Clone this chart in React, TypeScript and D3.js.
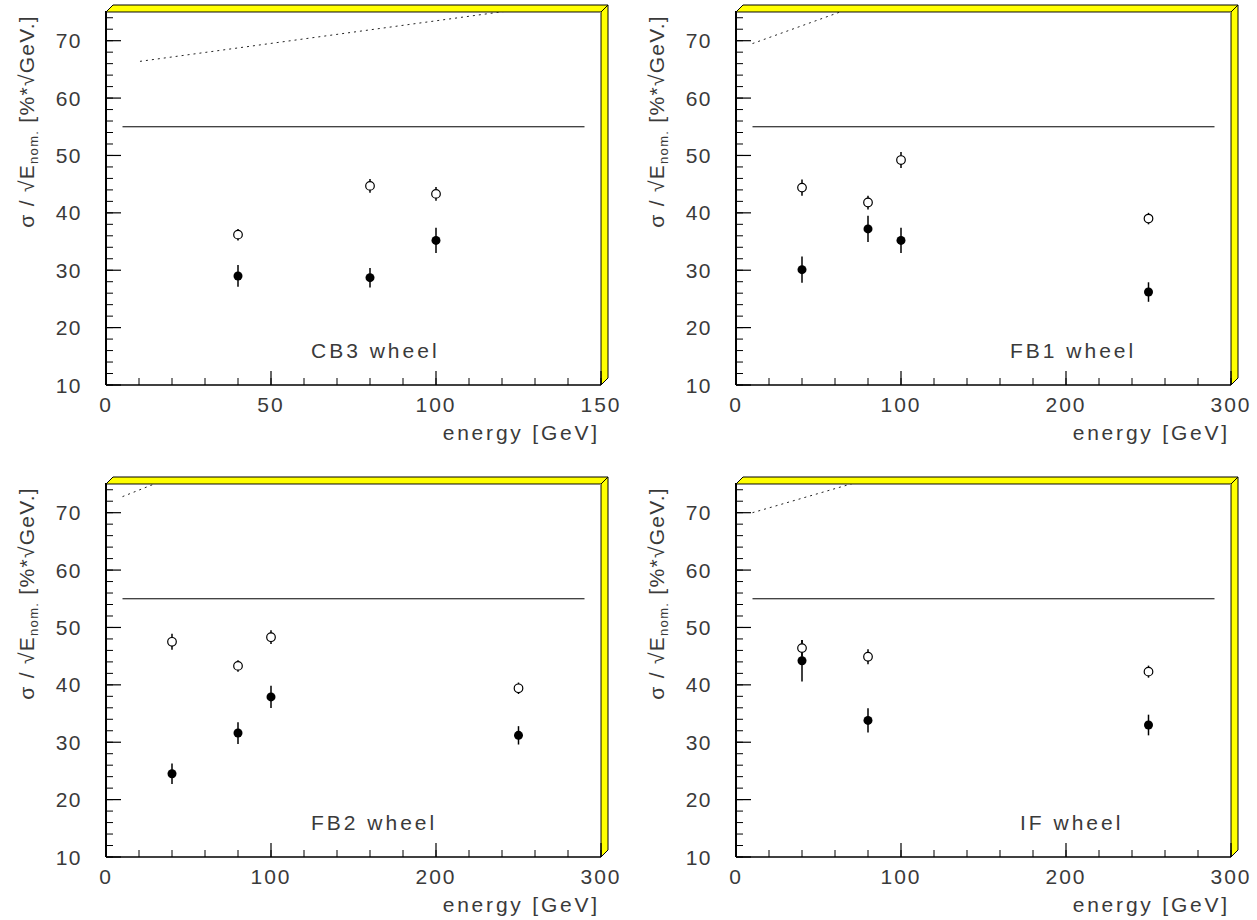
import React from "react";
import * as d3 from "d3";

// ---------- data ----------
const panelNames = ["CB3 wheel", "FB1 wheel", "FB2 wheel", "IF wheel"];
const energyMax = [150, 300, 300, 300];

const cb3Energy = [40, 80, 100];
const cb3Open = [36.2, 44.7, 43.3];
const cb3OpenErr = [1.0, 1.2, 1.2];
const cb3Filled = [29.0, 28.7, 35.2];
const cb3FilledErr = [1.9, 1.7, 2.2];

const fb1Energy = [40, 80, 100, 250];
const fb1Open = [44.4, 41.8, 49.2, 39.0];
const fb1OpenErr = [1.4, 1.2, 1.4, 1.0];
const fb1Filled = [30.1, 37.2, 35.2, 26.2];
const fb1FilledErr = [2.3, 2.3, 2.2, 1.7];

const fb2Energy = [40, 80, 100, 250];
const fb2Open = [47.5, 43.3, 48.3, 39.4];
const fb2OpenErr = [1.4, 1.0, 1.2, 1.0];
const fb2Filled = [24.5, 31.6, 37.9, 31.2];
const fb2FilledErr = [1.8, 1.9, 1.95, 1.6];

const ifEnergy = [40, 80, 250];
const ifOpen = [46.4, 44.9, 42.3];
const ifOpenErr = [1.4, 1.3, 1.05];
const ifFilled = [44.2, 33.8, 33.0];
const ifFilledErr = [3.6, 2.1, 1.8];

// reference (solid) level and its energy span per panel
const referenceLevel = 55;
const referenceSpan = [[5, 145], [10, 290], [10, 290], [10, 290]];
// dotted curve end points [energy, value]
const dottedCB3 = [[10.3, 66.4], [122, 75.2]];
const dottedFB1 = [[10, 69.5], [65, 75.2]];
const dottedFB2 = [[10, 72.8], [31, 75.2]];
const dottedIF = [[10, 70.0], [72, 75.2]];

const yTickValues = [10, 20, 30, 40, 50, 60, 70];
const yDomain = [10, 75];

// ---------- layout ----------
const W = 1257;
const H = 920;
const PW = 495;
const PH = 373;
const DEPTH = 7;
const boxes = [
  { left: 106, top: 12, labelDx: 205 },
  { left: 736, top: 12, labelDx: 274 },
  { left: 106, top: 484, labelDx: 205 },
  { left: 736, top: 484, labelDx: 284 },
];
const FONT = "'Liberation Sans', Arial, Helvetica, sans-serif";
const TXT = "#3a3a3a";

const panels = [
  { energy: cb3Energy, open: cb3Open, openErr: cb3OpenErr, filled: cb3Filled, filledErr: cb3FilledErr, dotted: dottedCB3 },
  { energy: fb1Energy, open: fb1Open, openErr: fb1OpenErr, filled: fb1Filled, filledErr: fb1FilledErr, dotted: dottedFB1 },
  { energy: fb2Energy, open: fb2Open, openErr: fb2OpenErr, filled: fb2Filled, filledErr: fb2FilledErr, dotted: dottedFB2 },
  { energy: ifEnergy, open: ifOpen, openErr: ifOpenErr, filled: ifFilled, filledErr: ifFilledErr, dotted: dottedIF },
];

function Panel({ idx }: { idx: number }) {
  const b = boxes[idx];
  const p = panels[idx];
  const xMax = energyMax[idx];
  const x = d3.scaleLinear().domain([0, xMax]).range([b.left, b.left + PW]);
  const y = d3.scaleLinear().domain(yDomain).range([b.top + PH, b.top]);
  const xMajor = x.ticks(3);
  const xMinor = d3.range(0, xMax + 0.001, xMax / 15);
  const yMinor = d3.range(10, 75, 2);
  const bottom = b.top + PH;
  const right = b.left + PW;
  const clipId = `clip${idx}`;
  const line = d3
    .line<number[]>()
    .x((d) => x(d[0]))
    .y((d) => y(d[1]));

  return (
    <g>
      <defs>
        <clipPath id={clipId}>
          <rect x={b.left} y={b.top} width={PW} height={PH} />
        </clipPath>
      </defs>
      {/* 3D yellow frame */}
      <polygon
        points={`${b.left},${b.top} ${right},${b.top} ${right + DEPTH},${b.top - DEPTH} ${b.left + DEPTH},${b.top - DEPTH}`}
        fill="#ffff00"
        stroke="#000"
        strokeWidth={1}
      />
      <polygon
        points={`${right},${b.top} ${right + DEPTH},${b.top - DEPTH} ${right + DEPTH},${bottom - DEPTH} ${right},${bottom}`}
        fill="#ffff00"
        stroke="#000"
        strokeWidth={1}
      />
      <line x1={b.left} y1={b.top + 0.5} x2={right} y2={b.top + 0.5} stroke="#888" strokeWidth={1} />
      <line x1={right - 0.5} y1={b.top} x2={right - 0.5} y2={bottom} stroke="#888" strokeWidth={1} />

      {/* axes */}
      <line x1={b.left} y1={b.top - 1} x2={b.left} y2={bottom} stroke="#000" strokeWidth={2} />
      <line x1={b.left} y1={bottom} x2={right} y2={bottom} stroke="#000" strokeWidth={1.5} />
      {yMinor.map((v) => (
        <line key={`ym${v}`} x1={b.left} x2={b.left + 7} y1={y(v)} y2={y(v)} stroke="#000" strokeWidth={1} />
      ))}
      {yTickValues.map((v) => (
        <line key={`yM${v}`} x1={b.left} x2={b.left + 15} y1={y(v)} y2={y(v)} stroke="#000" strokeWidth={1.2} />
      ))}
      {xMinor.map((v) => (
        <line key={`xm${v}`} x1={x(v)} x2={x(v)} y1={bottom} y2={bottom - 7} stroke="#000" strokeWidth={1} />
      ))}
      {xMajor.map((v) => (
        <line key={`xM${v}`} x1={x(v)} x2={x(v)} y1={bottom} y2={bottom - 14} stroke="#000" strokeWidth={1.2} />
      ))}
      {yTickValues.map((v) => (
        <text
          key={`yl${v}`}
          x={b.left - 24}
          y={y(v) + 7.5}
          textAnchor="end"
          fontFamily={FONT}
          fontSize={21}
          fill={TXT}
          letterSpacing={1.5}
        >
          {v}
        </text>
      ))}
      {xMajor.map((v) => (
        <text
          key={`xl${v}`}
          x={x(v)}
          y={bottom + 27}
          textAnchor="middle"
          fontFamily={FONT}
          fontSize={21}
          fill={TXT}
          letterSpacing={2}
        >
          {v}
        </text>
      ))}
      <text
        x={right - 1}
        y={bottom + 55}
        textAnchor="end"
        fontFamily={FONT}
        fontSize={21}
        fill={TXT}
        letterSpacing={2.8}
      >
        energy [GeV]
      </text>
      <text
        transform={`translate(${b.left - 72}, ${b.top + 3}) rotate(-90)`}
        textAnchor="end"
        fontFamily={FONT}
        fontSize={21}
        fill={TXT}
        letterSpacing={1.3}
      >
        <tspan>σ / √E</tspan>
        <tspan fontSize={13} dy={4}>nom.</tspan>
        <tspan dy={-4}> [%*√GeV.]</tspan>
      </text>

      {/* reference lines */}
      <line
        x1={x(referenceSpan[idx][0])}
        x2={x(referenceSpan[idx][1])}
        y1={y(referenceLevel)}
        y2={y(referenceLevel)}
        stroke="#000"
        strokeWidth={1}
      />
      <path
        d={line(p.dotted) || ""}
        fill="none"
        stroke="#222"
        strokeWidth={1}
        strokeDasharray="2,4"
        clipPath={`url(#${clipId})`}
      />

      {/* data */}
      {p.energy.map((e, i) => (
        <g key={`f${i}`}>
          <line
            x1={x(e)}
            x2={x(e)}
            y1={y(p.filled[i] - p.filledErr[i])}
            y2={y(p.filled[i] + p.filledErr[i])}
            stroke="#000"
            strokeWidth={1.5}
          />
          <circle cx={x(e)} cy={y(p.filled[i])} r={4.5} fill="#000" />
        </g>
      ))}
      {p.energy.map((e, i) => (
        <g key={`o${i}`}>
          <line
            x1={x(e)}
            x2={x(e)}
            y1={y(p.open[i] - p.openErr[i])}
            y2={y(p.open[i] + p.openErr[i])}
            stroke="#000"
            strokeWidth={1.5}
          />
          <circle cx={x(e)} cy={y(p.open[i])} r={4.3} fill="#fff" stroke="#000" strokeWidth={1.2} />
        </g>
      ))}

      <text
        x={b.left + b.labelDx}
        y={bottom - 27}
        fontFamily={FONT}
        fontSize={21}
        fill={TXT}
        letterSpacing={3}
      >
        {panelNames[idx]}
      </text>
    </g>
  );
}

export default function App() {
  return (
    <svg
      width={W}
      height={H}
      viewBox={`0 0 ${W} ${H}`}
      style={{ position: "absolute", left: 0, top: 0, background: "#fff" }}
    >
      <rect width={W} height={H} fill="#fff" />
      {boxes.map((_, i) => (
        <Panel key={i} idx={i} />
      ))}
    </svg>
  );
}
